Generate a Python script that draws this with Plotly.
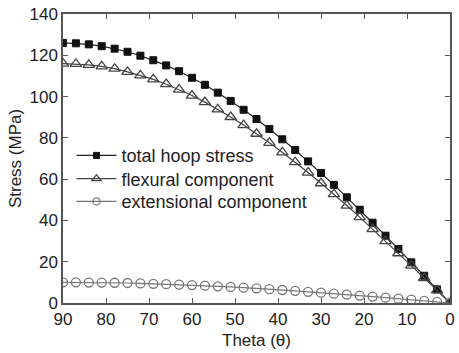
import plotly.graph_objects as go

theta = [90, 87, 84, 81, 78, 75, 72, 69, 66, 63, 60, 57, 54, 51, 48, 45,
         42, 39, 36, 33, 30, 27, 24, 21, 18, 15, 12, 9, 6, 3, 0]
total_hoop = [126.0, 125.8, 125.3, 124.4, 123.2, 121.7, 119.8, 117.6, 115.1, 112.3,
              109.1, 105.7, 101.9, 97.9, 93.6, 89.1, 84.3, 79.3, 74.1, 68.6,
              63.0, 57.2, 51.2, 45.2, 38.9, 32.6, 26.2, 19.7, 13.2, 6.6, 0.0]
flexural = [116.0, 115.8, 115.4, 114.6, 113.5, 112.0, 110.3, 108.3, 106.0, 103.4,
            100.5, 97.3, 93.8, 90.1, 86.2, 82.0, 77.6, 73.0, 68.2, 63.2,
            58.0, 52.7, 47.2, 41.6, 35.8, 30.0, 24.1, 18.1, 12.1, 6.1, 0.0]
extensional = [10.0, 10.0, 9.9, 9.9, 9.8, 9.7, 9.5, 9.3, 9.1, 8.9,
               8.7, 8.4, 8.1, 7.8, 7.4, 7.1, 6.7, 6.3, 5.9, 5.4,
               5.0, 4.5, 4.1, 3.6, 3.1, 2.6, 2.1, 1.6, 1.0, 0.5, 0.0]

names = ["total hoop stress", "flexural component", "extensional component"]

FONT = "Arial, Liberation Sans, sans-serif"

styles = [
    dict(line=dict(color="#222222", width=1.2),
         marker=dict(symbol="square", size=7, color="#111111",
                     line=dict(color="#111111", width=1)),
         legend_marker=dict(symbol="square", size=6, color="#111111",
                            line=dict(color="#111111", width=1))),
    dict(line=dict(color="#444444", width=1.2),
         marker=dict(symbol="triangle-up-open", size=10, color="#444444",
                     line=dict(width=1.3)),
         legend_marker=dict(symbol="triangle-up-open", size=8, color="#444444",
                            line=dict(width=1.3))),
    dict(line=dict(color="#777777", width=1.2),
         marker=dict(symbol="circle-open", size=9, color="#777777",
                     line=dict(width=1.3)),
         legend_marker=dict(symbol="circle-open", size=7, color="#777777",
                            line=dict(width=1.3))),
]
series = [total_hoop, flexural, extensional]
legend_ids = ["legend", "legend2", "legend3"]

fig = go.Figure()
for vals, name, st in zip(series, names, styles):
    fig.add_trace(go.Scatter(
        x=theta, y=vals, name=name, mode="lines+markers",
        line=st["line"], marker=st["marker"], cliponaxis=True,
        showlegend=False))
for name, st, lg in zip(names, styles, legend_ids):
    fig.add_trace(go.Scatter(
        x=[None], y=[None], name=name, mode="lines+markers",
        line=st["line"], marker=st["legend_marker"], legend=lg,
        showlegend=True, hoverinfo="skip"))

axis_common = dict(
    showline=True, linecolor="#555555", linewidth=1.5, mirror="ticks",
    ticks="inside", ticklen=5, tickwidth=1.2, tickcolor="#555555",
    showgrid=False, zeroline=False,
    tickfont=dict(family=FONT, size=17, color="#222222"),
)

def leg(yc):
    return dict(x=0.022, y=yc, xanchor="left", yanchor="middle",
                bgcolor="rgba(0,0,0,0)", font=dict(size=18, color="#222222"),
                itemwidth=40)

fig.update_layout(
    width=459, height=353,
    margin=dict(l=63, r=4, t=14, b=50),
    paper_bgcolor="white", plot_bgcolor="white",
    font=dict(family=FONT, size=17, color="#222222"),
    showlegend=True,
    legend=leg(0.5097), legend2=leg(0.429), legend3=leg(0.3505),
    xaxis=dict(range=[90, 0], tickvals=[90, 80, 70, 60, 50, 40, 30, 20, 10, 0],
               title=dict(text="Theta (θ)", standoff=6, font=dict(size=17)),
               **axis_common),
    yaxis=dict(range=[0, 140], tickvals=[0, 20, 40, 60, 80, 100, 120, 140],
               title=dict(text="Stress (MPa)", standoff=4, font=dict(size=17)),
               **axis_common),
)

fig.write_html("out.html")
